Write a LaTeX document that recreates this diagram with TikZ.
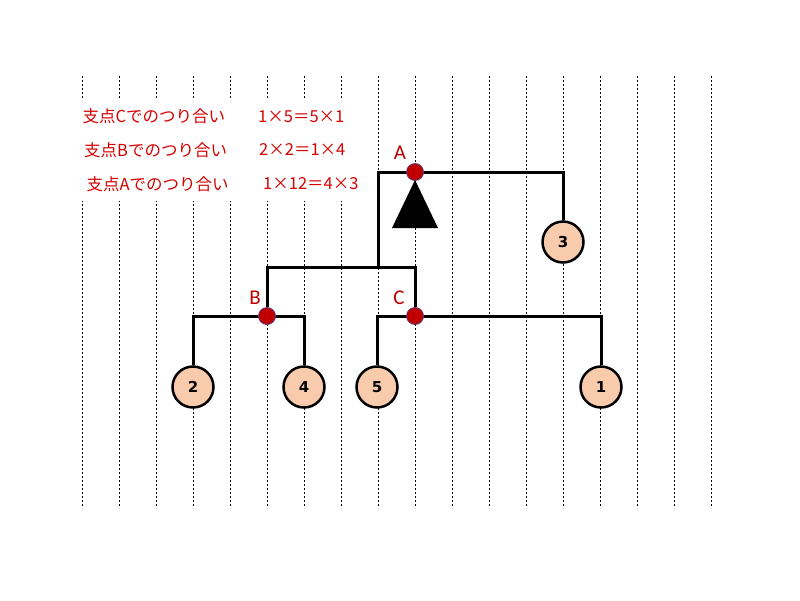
\documentclass[tikz,border=0pt]{standalone}
\usepackage{fontspec}
\newfontfamily\jpfont{Noto Sans CJK JP}
\newfontfamily\numfont{DejaVu Sans}
\newfontfamily\lblfont{Carlito}
\usetikzlibrary{backgrounds}
\definecolor{txtred}{RGB}{215,0,0}
\definecolor{lblred}{RGB}{192,0,0}
\definecolor{dotred}{RGB}{192,0,0}
\definecolor{dotedge}{RGB}{90,60,120}
\definecolor{peach}{RGB}{248,203,173}
\begin{document}
\begin{tikzpicture}[x=1pt,y=-1pt,
  beam/.style={line width=3pt, line join=miter},
  weight/.style={circle, draw, line width=2.5pt, fill=peach, minimum size=41pt, inner sep=0pt,
    font=\numfont\bfseries\fontsize{15}{15}\selectfont},
  pivot/.style={circle, fill=dotred, draw=dotedge, line width=0.8pt, minimum size=17pt, inner sep=0pt},
  gridline/.style={line width=0.8pt, dash pattern=on 2pt off 2pt},
  eqtext/.style={anchor=west, inner sep=0pt, text=txtred, font=\jpfont\fontsize{16.5}{16.5}\selectfont},
  ptlabel/.style={inner sep=0pt, text=lblred, font=\lblfont\fontsize{21}{21}\selectfont}]
\useasboundingbox (0,0) rectangle (800,600);

% weights
\node[weight] (w3) at (563,242) {3};
\node[weight] (w2) at (193,387) {2};
\node[weight] (w4) at (304,387) {4};
\node[weight] (w5) at (377,387) {5};
\node[weight] (w1) at (601,387) {1};

% pivots
\node[pivot] (pA) at (415,172) {};
\node[pivot] (pB) at (267,316) {};
\node[pivot] (pC) at (415,316) {};
\node[ptlabel] (lA) at (400,153) {A};
\node[ptlabel] (lB) at (255,298) {B};
\node[ptlabel] (lC) at (399,298) {C};

% texts
\node[eqtext] (t1) at (82.5,116.5) {支点Cでのつり合い};
\node[eqtext] (e1) at (258,116.5) {1×5＝5×1};
\node[eqtext] (t2) at (84,150) {支点Bでのつり合い};
\node[eqtext] (e2) at (259,150) {2×2＝1×4};
\node[eqtext] (t3) at (86.5,184) {支点Aでのつり合い};
\node[eqtext] (e3) at (263,184) {1×12＝4×3};

% beam corners
\coordinate (aL) at (378,172);
\coordinate (aR) at (563,172);
\coordinate (barL) at (267,267);
\coordinate (barM) at (378,267);
\coordinate (barR) at (415,267);
\coordinate (bL) at (193,316);
\coordinate (bR) at (304,316);
\coordinate (cL) at (377,316);
\coordinate (cR) at (601,316);

\begin{pgfonlayer}{background}
  \fill[white] (0,0) rectangle (800,600);
  \foreach \i in {0,...,17} \draw[gridline] (82.5+37*\i,76) -- (82.5+37*\i,508);
  \fill[white] (74,98) rectangle (362,201);
  \draw[beam] (barM) -- (aL) -- (aR) -- (w3.north);
  \draw[beam] (pB) -- (barL) -- (barR) -- (pC);
  \draw[beam] (w2.north) -- (bL) -- (bR) -- (w4.north);
  \draw[beam] (w5.north) -- (cL) -- (cR) -- (w1.north);
  \fill (415,180) -- (392,228) -- (438,228) -- cycle;
\end{pgfonlayer}
\end{tikzpicture}
\end{document}
